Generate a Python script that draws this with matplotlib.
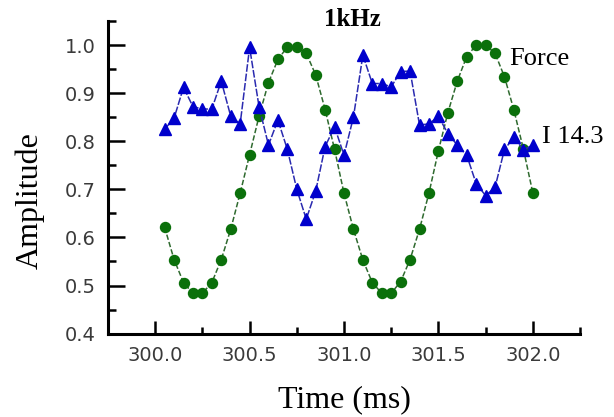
import numpy as np
import matplotlib
matplotlib.use("Agg")
import matplotlib.pyplot as plt
from matplotlib.ticker import MultipleLocator, FormatStrFormatter

# Sample times (ms) shared by both traces
time_ms = [300.05, 300.10, 300.15, 300.20, 300.25, 300.30, 300.35, 300.40,
           300.45, 300.50, 300.55, 300.60, 300.65, 300.70, 300.75, 300.80,
           300.85, 300.90, 300.95, 301.00, 301.05, 301.10, 301.15, 301.20,
           301.25, 301.30, 301.35, 301.40, 301.45, 301.50, 301.55, 301.60,
           301.65, 301.70, 301.75, 301.80, 301.85, 301.90, 301.95, 302.00]

# Normalised force trace (1 kHz drive)
force = [0.621, 0.554, 0.506, 0.484, 0.484, 0.506, 0.554, 0.617,
         0.692, 0.772, 0.852, 0.922, 0.970, 0.996, 0.996, 0.983,
         0.938, 0.866, 0.783, 0.692, 0.617, 0.553, 0.506, 0.484,
         0.484, 0.508, 0.554, 0.617, 0.692, 0.780, 0.859, 0.925,
         0.976, 1.000, 1.000, 0.983, 0.934, 0.865, 0.784, 0.693]

# Normalised current trace (I 14.3)
current = [0.825, 0.848, 0.912, 0.872, 0.867, 0.867, 0.925, 0.852,
           0.836, 0.995, 0.872, 0.792, 0.844, 0.783, 0.700, 0.638,
           0.696, 0.789, 0.830, 0.771, 0.850, 0.979, 0.920, 0.920,
           0.913, 0.945, 0.946, 0.834, 0.836, 0.852, 0.816, 0.792,
           0.771, 0.712, 0.687, 0.704, 0.783, 0.808, 0.782, 0.792]

series_names = ["Force", "I 14.3"]
title = "1kHz"
x_label = "Time (ms)"
y_label = "Amplitude"

serif = ["Liberation Serif", "DejaVu Serif"]

fig = plt.figure(figsize=(6.14, 4.17), dpi=100)
ax = fig.add_axes([0.1759, 0.200, 0.7687, 0.7496])

green = "#0b700b"
blue = "#0000cc"

ax.plot(time_ms, force, color="#2f6a2f", lw=1.1, ls=(0, (3.5, 1.5)),
        marker="o", ms=7.2, mfc=green, mec=green, zorder=3)
ax.plot(time_ms, current, color="#2a2ab0", lw=1.1, ls=(0, (5, 1.2)),
        marker="^", ms=9, mfc=blue, mec=blue, zorder=4)

ax.set_xlim(299.75, 302.25)
ax.set_ylim(0.4, 1.05)

for side in ("top", "right"):
    ax.spines[side].set_visible(False)
for side in ("left", "bottom"):
    ax.spines[side].set_linewidth(2.2)
    ax.spines[side].set_color("black")

ax.xaxis.set_major_locator(MultipleLocator(0.5))
ax.xaxis.set_minor_locator(MultipleLocator(0.25))
ax.yaxis.set_major_locator(MultipleLocator(0.1))
ax.yaxis.set_minor_locator(MultipleLocator(0.05))
ax.xaxis.set_major_formatter(FormatStrFormatter("%.1f"))
ax.yaxis.set_major_formatter(FormatStrFormatter("%.1f"))

ax.tick_params(axis="x", which="major", direction="in", length=9.5, width=1.8,
               pad=9, labelsize=14, labelcolor="#3a3a3a")
ax.tick_params(axis="x", which="minor", direction="in", length=5, width=1.8)
ax.tick_params(axis="y", which="major", direction="in", length=12, width=1.8,
               pad=9, labelsize=14, labelcolor="#3a3a3a")
ax.tick_params(axis="y", which="minor", direction="in", length=6, width=1.8)

ax.set_xlabel(x_label, family=serif, fontsize=23)
ax.xaxis.label.set_va("center")
ax.xaxis.set_label_coords(0.5, -0.212)

ax.set_ylabel(y_label, family=serif, fontsize=23)
ax.yaxis.label.set_va("center")
ax.yaxis.set_label_coords(-0.165, 0.425)

ax.text(0.517, 1.006, title, transform=ax.transAxes, ha="center", va="center",
        family=serif, fontsize=18, fontweight="bold")

ax.text(301.877, 0.971, series_names[0], ha="left", va="center",
        family=serif, fontsize=19, clip_on=False)
ax.text(302.05, 0.809, series_names[1], ha="left", va="center",
        family=serif, fontsize=19, clip_on=False)

fig.savefig("out.png", dpi=100, facecolor="white")
